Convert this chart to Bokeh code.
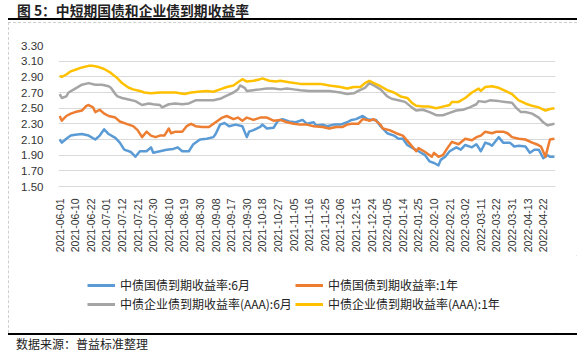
from bokeh.plotting import figure
from bokeh.models import (FixedTicker, NumeralTickFormatter, Legend, LegendItem,
                          Range1d, Div)
from bokeh.layouts import column
from bokeh.embed import file_html
from bokeh.resources import INLINE

# x is the trading-day index counted from 2021-06-01
tick_labels = ["2021-06-01", "2021-06-10", "2021-06-22", "2021-07-01", "2021-07-12",
               "2021-07-21", "2021-07-30", "2021-08-10", "2021-08-19", "2021-08-30",
               "2021-09-08", "2021-09-17", "2021-09-30", "2021-10-18", "2021-10-27",
               "2021-11-05", "2021-11-16", "2021-11-25", "2021-12-06", "2021-12-15",
               "2021-12-24", "2022-01-05", "2022-01-14", "2022-01-25", "2022-02-10",
               "2022-02-21", "2022-03-02", "2022-03-11", "2022-03-22", "2022-03-31",
               "2022-04-13", "2022-04-22"]
tick_pos = [0, 7, 14, 21, 28, 35, 42, 49, 56, 63, 70, 77, 84, 91, 98, 105, 112,
            119, 126, 133, 140, 147, 154, 161, 168, 175, 182, 189, 196, 203, 210, 217]
y_ticks = [1.5, 1.7, 1.9, 2.1, 2.3, 2.5, 2.7, 2.9, 3.1, 3.3]

gov6m_x = [0, 1, 3, 5, 7, 10, 13, 16, 18, 20, 22, 25, 27, 29, 32, 34, 36, 39, 41, 42,
           45, 48, 51, 53, 55, 58, 60, 63, 66, 69, 70, 72, 74, 76, 79, 82, 84, 85, 87,
           90, 91, 93, 96, 98, 100, 103, 106, 109, 111, 114, 115, 118, 120, 123, 126,
           129, 131, 133, 136, 138, 141, 142, 144, 147, 150, 152, 154, 156, 159, 161,
           164, 166, 168, 170, 171, 173, 175, 178, 180, 182, 185, 187, 189, 191, 193,
           194, 197, 199, 202, 204, 206, 209, 211, 213, 215, 217, 219, 220, 222]
gov6m_y = [2.10, 2.06, 2.11, 2.15, 2.16, 2.17, 2.15, 2.10, 2.15, 2.23, 2.17, 2.12, 2.06,
           1.97, 1.94, 1.88, 1.95, 1.95, 2.00, 1.93, 1.95, 1.97, 1.98, 2.00, 1.95, 1.95,
           2.04, 2.10, 2.11, 2.13, 2.17, 2.29, 2.31, 2.27, 2.29, 2.27, 2.13, 2.20, 2.22,
           2.26, 2.29, 2.24, 2.25, 2.34, 2.36, 2.33, 2.32, 2.35, 2.30, 2.32, 2.28, 2.29,
           2.27, 2.29, 2.29, 2.32, 2.35, 2.36, 2.40, 2.36, 2.35, 2.35, 2.27, 2.18, 2.15,
           2.11, 2.11, 2.03, 1.98, 1.95, 1.90, 1.82, 1.80, 1.77, 1.84, 1.88, 1.95, 2.00,
           1.97, 2.03, 2.00, 2.04, 1.95, 2.06, 2.04, 2.02, 2.13, 2.06, 2.06, 2.01, 2.02,
           2.01, 1.93, 1.97, 1.97, 1.86, 1.90, 1.88, 1.88]

gov1y_x = [0, 1, 3, 5, 7, 10, 12, 13, 15, 16, 18, 20, 22, 25, 27, 30, 33, 35, 37, 39,
           41, 43, 45, 47, 49, 50, 52, 55, 57, 59, 61, 64, 67, 70, 73, 75, 78, 80, 82,
           84, 87, 90, 93, 96, 99, 102, 105, 108, 111, 114, 118, 121, 124, 127, 129,
           131, 134, 136, 138, 139, 141, 144, 145, 148, 151, 154, 157, 160, 161, 164,
           167, 168, 170, 172, 174, 176, 179, 182, 185, 187, 189, 191, 194, 196, 199,
           201, 203, 206, 209, 212, 214, 216, 218, 219, 220, 222]
gov1y_y = [2.40, 2.34, 2.40, 2.43, 2.45, 2.47, 2.53, 2.54, 2.51, 2.45, 2.48, 2.43, 2.40,
           2.38, 2.33, 2.30, 2.27, 2.22, 2.13, 2.20, 2.15, 2.13, 2.15, 2.15, 2.24, 2.18,
           2.20, 2.20, 2.27, 2.30, 2.27, 2.26, 2.26, 2.32, 2.38, 2.40, 2.36, 2.38, 2.34,
           2.38, 2.35, 2.38, 2.38, 2.34, 2.35, 2.32, 2.30, 2.29, 2.29, 2.27, 2.26, 2.24,
           2.26, 2.26, 2.29, 2.30, 2.30, 2.36, 2.35, 2.34, 2.36, 2.29, 2.24, 2.22, 2.18,
           2.15, 2.05, 1.95, 1.99, 1.94, 1.88, 1.93, 1.88, 1.90, 1.99, 2.07, 2.04, 2.11,
           2.09, 2.13, 2.15, 2.20, 2.18, 2.20, 2.20, 2.18, 2.13, 2.11, 2.10, 2.06, 2.04,
           2.01, 1.88, 1.99, 2.10, 2.11]

corp6m_x = [0, 1, 3, 4, 7, 10, 13, 16, 19, 22, 23, 25, 26, 28, 31, 34, 37, 40, 42, 45,
            46, 49, 52, 55, 58, 61, 64, 69, 72, 75, 78, 80, 81, 83, 84, 87, 90, 93, 96,
            99, 102, 105, 108, 112, 116, 121, 126, 129, 132, 134, 137, 139, 141, 144,
            147, 149, 152, 155, 158, 160, 163, 166, 169, 172, 175, 178, 181, 184, 187,
            188, 191, 193, 197, 200, 203, 205, 207, 209, 212, 215, 217, 219, 222]
corp6m_y = [2.68, 2.63, 2.65, 2.70, 2.75, 2.80, 2.82, 2.80, 2.80, 2.78, 2.76, 2.68, 2.65,
            2.63, 2.61, 2.59, 2.54, 2.56, 2.55, 2.54, 2.51, 2.55, 2.56, 2.55, 2.56, 2.60,
            2.60, 2.60, 2.62, 2.66, 2.70, 2.74, 2.79, 2.76, 2.72, 2.73, 2.74, 2.75, 2.75,
            2.74, 2.75, 2.74, 2.73, 2.72, 2.72, 2.72, 2.70, 2.68, 2.69, 2.72, 2.76, 2.82,
            2.79, 2.74, 2.65, 2.62, 2.60, 2.58, 2.51, 2.47, 2.48, 2.45, 2.41, 2.41, 2.44,
            2.47, 2.48, 2.51, 2.55, 2.59, 2.58, 2.60, 2.59, 2.58, 2.57, 2.50, 2.45, 2.45,
            2.43, 2.38, 2.32, 2.28, 2.30]

corp1y_x = [0, 1, 3, 5, 8, 10, 13, 15, 17, 20, 23, 26, 28, 31, 33, 36, 38, 41, 45, 49,
            52, 56, 59, 62, 66, 69, 72, 75, 78, 80, 82, 84, 87, 90, 91, 94, 97, 99, 103,
            108, 112, 117, 121, 126, 129, 132, 135, 137, 139, 141, 144, 147, 150, 153,
            156, 158, 160, 163, 166, 169, 172, 175, 176, 179, 182, 185, 188, 189, 191,
            194, 197, 200, 203, 206, 209, 212, 215, 218, 220, 222]
corp1y_y = [2.91, 2.90, 2.93, 2.97, 3.00, 3.02, 3.04, 3.04, 3.03, 3.00, 2.95, 2.88, 2.82,
            2.76, 2.74, 2.72, 2.70, 2.69, 2.70, 2.70, 2.70, 2.68, 2.70, 2.71, 2.72, 2.71,
            2.74, 2.77, 2.79, 2.83, 2.87, 2.84, 2.85, 2.87, 2.88, 2.85, 2.84, 2.85, 2.83,
            2.81, 2.81, 2.81, 2.79, 2.77, 2.75, 2.77, 2.77, 2.82, 2.85, 2.82, 2.78, 2.73,
            2.70, 2.65, 2.63, 2.57, 2.53, 2.52, 2.52, 2.50, 2.52, 2.54, 2.58, 2.58, 2.63,
            2.70, 2.75, 2.72, 2.77, 2.78, 2.76, 2.72, 2.68, 2.60, 2.56, 2.53, 2.51, 2.47,
            2.49, 2.50]

series_names = ["中债国债到期收益率:6月", "中债国债到期收益率:1年",
                "中债企业债到期收益率(AAA):6月", "中债企业债到期收益率(AAA):1年"]
series_colors = ["#5B9BD5", "#ED7D31", "#A5A5A5", "#FFC000"]
title_text = "图 5：中短期国债和企业债到期收益率"
source_text = "数据来源：普益标准整理"

FONT_CJK = "Noto Sans CJK SC"
FONT_NUM = "Liberation Sans"

xs = [gov6m_x, gov1y_x, corp6m_x, corp1y_x]
ys = [gov6m_y, gov1y_y, corp6m_y, corp1y_y]

# chart figure sits at x 8..577, y 22..255 of the page
p = figure(width=569, height=233, output_backend="svg", toolbar_location=None,
           x_range=Range1d(-0.5, 222.5), y_range=Range1d(1.5, 3.3),
           min_border_left=50, min_border_right=22, min_border_top=23,
           min_border_bottom=67)
p.outline_line_color = None
p.background_fill_color = "white"
p.border_fill_color = "white"

for x, y, c in zip(xs, ys, series_colors):
    p.line(x, y, line_color=c, line_width=2.5, line_join="round")

p.xgrid.grid_line_color = None
p.ygrid.grid_line_color = "#d9d9d9"
p.ygrid.grid_line_width = 1

p.yaxis.ticker = FixedTicker(ticks=y_ticks)
p.yaxis.formatter = NumeralTickFormatter(format="0.00")
p.yaxis.axis_line_color = None
p.yaxis.major_tick_line_color = None
p.yaxis.minor_tick_line_color = None
p.yaxis.major_label_standoff = 9
p.yaxis.major_label_text_font = FONT_NUM
p.yaxis.major_label_text_font_size = "11.5px"
p.yaxis.major_label_text_color = "#333333"

p.xaxis.ticker = FixedTicker(ticks=tick_pos)
p.xaxis.major_label_overrides = {t: l for t, l in zip(tick_pos, tick_labels)}
p.xaxis.major_label_orientation = 1.5707963
p.xaxis.axis_line_color = "#d9d9d9"
p.xaxis.major_tick_line_color = None
p.xaxis.minor_tick_line_color = None
p.xaxis.major_label_standoff = 6
p.xaxis.major_label_text_font = FONT_NUM
p.xaxis.major_label_text_font_size = "10.5px"
p.xaxis.major_label_text_color = "#333333"

# legend panel below the chart, y 255..333 of the page; its frame is aligned
# with the chart's frame (x 58..555) by the column layout
lg = figure(width=569, height=78, output_backend="svg", toolbar_location=None,
            x_range=Range1d(0, 1), y_range=Range1d(0, 1),
            x_axis_location=None, y_axis_location=None,
            min_border_left=50, min_border_right=22, min_border_top=0,
            min_border_bottom=0)
lg.outline_line_color = None
lg.xgrid.visible = False
lg.ygrid.visible = False
lg.border_fill_color = "white"
# same series drawn here only to feed the legend (they fall outside this range)
proxies = [lg.line(x, y, line_color=c, line_width=3) for x, y, c in zip(xs, ys, series_colors)]
legend = Legend(
    items=[LegendItem(label=n, renderers=[r]) for n, r in zip(series_names, proxies)],
    orientation="horizontal", ncols=2, location=(29, 21),
    glyph_width=28, glyph_height=14, label_height=14, label_width=173,
    label_standoff=5, spacing=2, padding=0, margin=0,
    border_line_alpha=0, background_fill_alpha=0,
    label_text_font=FONT_CJK, label_text_font_size="12px",
    label_text_color="#222222")
lg.add_layout(legend, "center")

framed = column(p, lg, spacing=0, margin=(0, 8, 0, 8),
                styles={"outline": "1px dashed #bfbfbf", "outline-offset": "-1px"})

top = Div(width=585, height=22, margin=0, text=(
    '<div style="width:569px;height:20px;margin-left:8px;border-bottom:2px solid #000;">'
    '<div style="padding-left:9px;padding-top:2px;line-height:16px;'
    "font-family:'Noto Sans CJK SC';font-weight:bold;font-size:13.8px;"
    'color:#222;white-space:nowrap;">' + title_text + '</div></div>'))
bottom = Div(width=585, height=21, margin=0, text=(
    '<div style="width:569px;height:19px;margin-left:8px;border-top:2px solid #000;">'
    '<div style="padding-left:8px;padding-top:1px;line-height:16px;'
    "font-family:'Noto Sans CJK SC';font-size:12px;color:#222;"
    'white-space:nowrap;">' + source_text + '</div></div>'))

page = column(top, framed, bottom, spacing=0)
open("out.html", "w").write(file_html(page, INLINE))
